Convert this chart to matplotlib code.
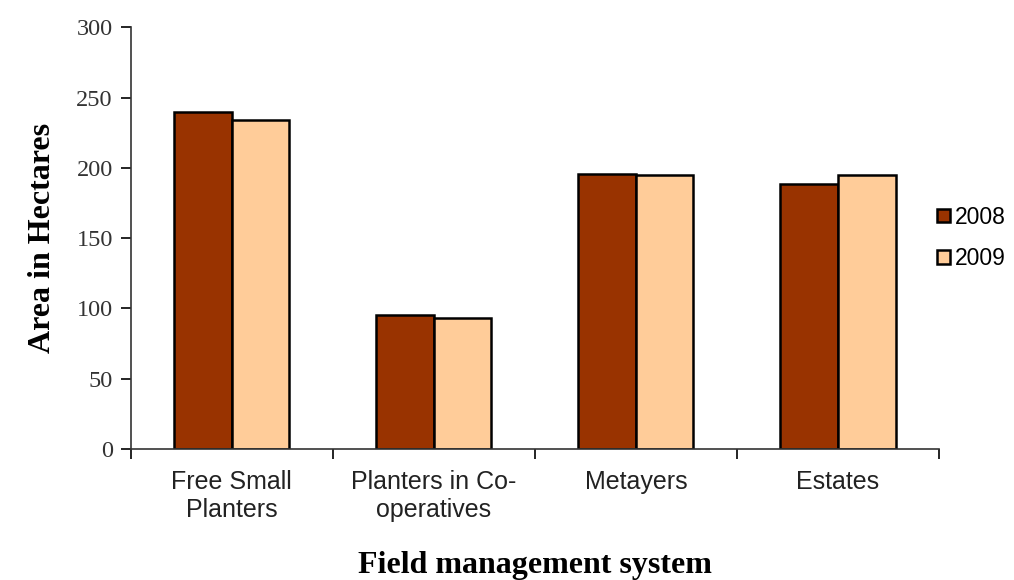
import numpy as np
import matplotlib
matplotlib.use("Agg")
import matplotlib.pyplot as plt

categories = ["Free Small\nPlanters", "Planters in Co-\noperatives", "Metayers", "Estates"]
area_2008 = [240, 95, 195.5, 188.5]
area_2009 = [234, 93.5, 195, 195]
years = ["2008", "2009"]
yticks = [0, 50, 100, 150, 200, 250, 300]

fig = plt.figure(figsize=(10.14, 5.8), dpi=100)
ax = fig.add_axes([0.129, 0.226, 0.797, 0.727])

x = np.arange(len(categories))
w = 0.285
ax.bar(x - w / 2, area_2008, w, color="#993300", edgecolor="black", linewidth=1.8, label=years[0])
ax.bar(x + w / 2, area_2009, w, color="#FFCC99", edgecolor="black", linewidth=1.8, label=years[1])

ax.set_xlim(-0.5, len(categories) - 0.5)
ax.set_ylim(0, 300)
ax.set_yticks(yticks)
ax.set_yticklabels([str(t) for t in yticks], family="Liberation Serif", fontsize=17.5, color="#333333")
ax.tick_params(axis="y", direction="out", length=7, width=1.2, pad=6)

ax.set_xticks(x)
ax.set_xticklabels(categories, family="Liberation Sans", fontsize=18, color="#222222", linespacing=1.2)
ax.set_xticks(np.arange(-0.5, len(categories)), minor=True)
ax.tick_params(axis="x", which="major", length=0, pad=15)
ax.tick_params(axis="x", which="minor", direction="out", length=7, width=1.2)

for s in ["top", "right"]:
    ax.spines[s].set_visible(False)
for s in ["left", "bottom"]:
    ax.spines[s].set_linewidth(1.2)
    ax.spines[s].set_color("#333333")

ax.set_ylabel("Area in Hectares", family="Liberation Serif", fontweight="bold", fontsize=23, labelpad=14)
ax.set_xlabel("Field management system", family="Liberation Serif", fontweight="bold", fontsize=23, labelpad=21)

leg = fig.legend(loc="center left", bbox_to_anchor=(0.904, 0.59), frameon=False,
                 prop={"family": "Liberation Sans", "size": 16.5},
                 handlelength=0.55, handleheight=0.55, handletextpad=0.2, labelspacing=0.8)

fig.savefig("out.png", dpi=100)
